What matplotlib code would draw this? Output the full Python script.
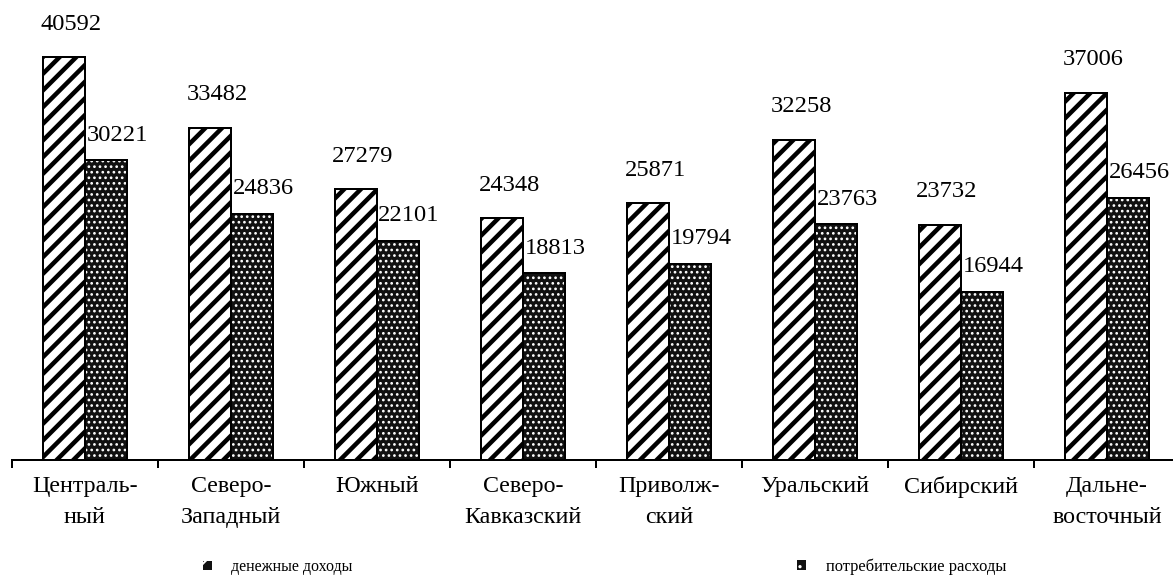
import matplotlib
matplotlib.use("Agg")
import matplotlib.pyplot as plt
import numpy as np
from matplotlib.patches import Rectangle

categories = ["Централь-\nный", "Северо-\nЗападный", "Южный", "Северо-\nКавказский",
              "Приволж-\nский", "Уральский", "Сибирский", "Дальне-\nвосточный"]
income = [40592, 33482, 27279, 24348, 25871, 32258, 23732, 37006]
spending = [30221, 24836, 22101, 18813, 19794, 23763, 16944, 26456]
series_names = ["денежные доходы", "потребительские расходы"]

DPI = 100
W, H = 1173, 577
def px2pt(p):
    return p * 72.0 / DPI

plt.rcParams['font.family'] = ['Liberation Serif', 'DejaVu Serif']

fig = plt.figure(figsize=(W / DPI, H / DPI), dpi=DPI)
left = 12 / W
right = 1180 / W
bottom = (H - 460) / H
ax = fig.add_axes([left, bottom, right - left, 1 - bottom])
ax.set_xlim(0, len(categories))
ax.set_ylim(0, 460 * 100.8)

x = np.arange(len(categories)) + 0.5
bw = 42 / 146.0

# series 1: diagonal stripes
plt.rcParams['hatch.linewidth'] = px2pt(4.5)
b1 = ax.bar(x - bw / 2, income, width=bw, facecolor='white', edgecolor='black',
            hatch='//', linewidth=px2pt(2))
# series 2: dark with white dots
plt.rcParams['hatch.linewidth'] = px2pt(1.6)
b2f = ax.bar(x + bw / 2, spending, width=bw, facecolor='#111111', edgecolor='white',
             hatch='...', linewidth=0)
b2 = ax.bar(x + bw / 2, spending, width=bw, facecolor='none', edgecolor='black',
            linewidth=px2pt(2))

fs_num = px2pt(24.5)
for xi, v in zip(x - bw / 2, income):
    ax.annotate(f"{v}", (xi, v), xytext=(px2pt(7), px2pt(33)), textcoords='offset points',
                ha='center', va='center', fontsize=fs_num, annotation_clip=False)
for xi, v in zip(x + bw / 2, spending):
    ax.annotate(f"{v}", (xi, v), xytext=(px2pt(11), px2pt(25)), textcoords='offset points',
                ha='center', va='center', fontsize=fs_num, annotation_clip=False)

for s in ['top', 'left', 'right']:
    ax.spines[s].set_visible(False)
ax.spines['bottom'].set_linewidth(px2pt(2))
ax.set_yticks([])
ax.set_xticks(np.arange(len(categories) + 1))
ax.set_xticklabels([])
ax.tick_params(axis='x', which='major', length=px2pt(8), width=px2pt(2), direction='out')
ax.set_xticks(x, minor=True)
ax.set_xticklabels(categories, minor=True, fontsize=px2pt(24), linespacing=1.6)
ax.tick_params(axis='x', which='minor', length=0, pad=px2pt(16))

# legend (small square keys)
plt.rcParams['hatch.linewidth'] = px2pt(2.0)
h1 = Rectangle((0, 0), 1, 1, facecolor='#111111', edgecolor='white', hatch='/', linewidth=0)
leg1 = ax.legend([h1], [series_names[0]], loc='center left',
                 frameon=False, fontsize=px2pt(16), handlelength=0.55, handleheight=0.55,
                 handletextpad=1.2, borderpad=0, borderaxespad=0)
leg1.set_bbox_to_anchor((203 / W, 1 - 567 / H), transform=fig.transFigure)
ax.add_artist(leg1)
plt.rcParams['hatch.linewidth'] = px2pt(1.6)
h2 = Rectangle((0, 0), 1, 1, facecolor='#111111', edgecolor='white', hatch='..', linewidth=0)
leg2 = ax.legend([h2], [series_names[1]], loc='center left',
                 frameon=False, fontsize=px2pt(16.5), handlelength=0.55, handleheight=0.55,
                 handletextpad=1.2, borderpad=0, borderaxespad=0)
leg2.set_bbox_to_anchor((797 / W, 1 - 567 / H), transform=fig.transFigure)

fig.savefig("out.png", dpi=DPI)
